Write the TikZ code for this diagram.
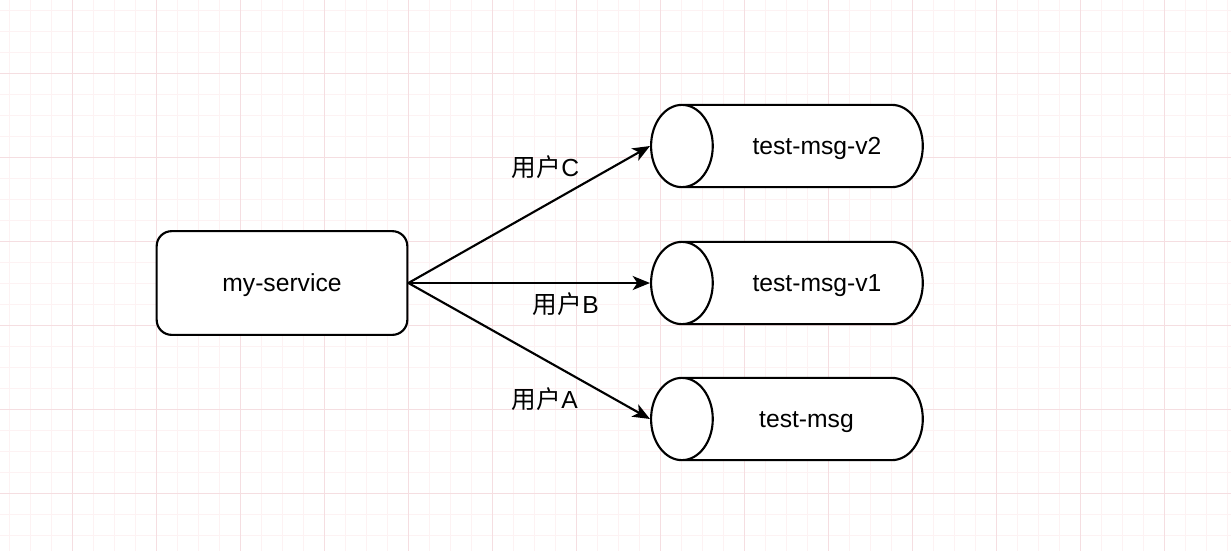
\documentclass[tikz,border=0pt]{standalone}
\usepackage{fontspec}
\setmainfont{Liberation Sans}
\newfontfamily\cjk{Noto Sans CJK SC}
\usepackage{tikz}
\usetikzlibrary{positioning,shapes.geometric,arrows.meta,calc}
\definecolor{gridminor}{RGB}{253,242,243}
\definecolor{gridmajor}{RGB}{245,222,225}

\begin{document}
\begin{tikzpicture}[x=0.75pt, y=-0.75pt,
    txt/.style={font=\fontsize{18.5}{20}\selectfont, text height=13.3pt, text depth=0pt, inner sep=0pt},
    lbl/.style={font=\fontsize{18.5}{20}\selectfont, inner sep=0pt, anchor=base west},
    svc/.style={draw, line width=1.6pt, rounded corners=11.25pt, minimum width=188pt, minimum height=77.8pt, fill=white},
    queue/.style={draw, line width=1.6pt, cylinder, shape border rotate=180, shape aspect=0.75, inner xsep=0pt, inner ysep=30.85pt, minimum height=203.8pt, fill=white, anchor=west},
    flow/.style={line width=1.6pt, -{Stealth[length=13pt, width=10.5pt, inset=3.5pt]}}]
  \useasboundingbox (0,0) rectangle (1231,551);
  \fill[white] (0,0) rectangle (1231,551);
  \foreach \gx in {9,30,...,1231} \draw[gridminor, line width=0.75pt] (\gx,0) -- (\gx,551);
  \foreach \gy in {10,31,...,551} \draw[gridminor, line width=0.75pt] (0,\gy) -- (1231,\gy);
  \foreach \gx in {72,156,...,1231} \draw[gridmajor, line width=0.75pt] (\gx,0) -- (\gx,551);
  \foreach \gy in {73,157,...,551} \draw[gridmajor, line width=0.75pt] (0,\gy) -- (1231,\gy);

  \node[svc] (svc) at (282,283) {};
  \node[txt] (svctext) at (282,283) {my-service};

  \node[queue] (v2) at (650,146) {};
  \node[queue] (v1) at (650,283) {};
  \node[queue] (v0) at (650,419) {};
  \node[txt] (v2text) at (817,146) {test-msg-v2};
  \node[txt] (v1text) at (817,283) {test-msg-v1};
  \node[txt] (v0text) at (806.5,419) {test-msg};

  \draw[flow] (svc.east) -- (v2.west);
  \draw[flow] (svc.east) -- (v1.west);
  \draw[flow] (svc.east) -- (v0.west);

  \node[lbl] (userC) at (511.7,176) {{\cjk 用户}C};
  \node[lbl] (userB) at (532.7,313) {{\cjk 用户}B};
  \node[lbl] (userA) at (511.7,408) {{\cjk 用户}A};
\end{tikzpicture}
\end{document}
